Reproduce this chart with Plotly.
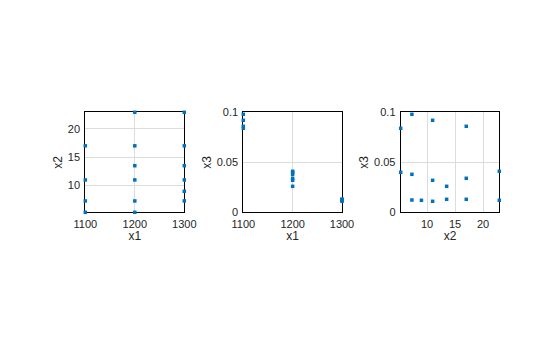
import plotly.graph_objects as go

# Data
x1 = [1100, 1100, 1100, 1100,
      1200, 1200, 1200, 1200, 1200, 1200,
      1300, 1300, 1300, 1300, 1300, 1300]
x2 = [17, 11, 7.3, 5.3,
      5.3, 7.3, 11, 13.5, 17, 22.9,
      7.3, 9, 11, 13.5, 17, 22.9]
x3 = [0.086, 0.092, 0.098, 0.084,
      0.040, 0.038, 0.032, 0.026, 0.034, 0.041,
      0.0123, 0.012, 0.011, 0.013, 0.013, 0.012]

pairs = [("x1", x1, "x2", x2), ("x1", x1, "x3", x3), ("x2", x2, "x3", x3)]
xranges = [[1100, 1300], [1100, 1300], [min(x2), max(x2)]]
yranges = [[min(x2), max(x2)], [0, 0.1], [0, 0.1]]
xticks = [[1100, 1200, 1300], [1100, 1200, 1300], [10, 15, 20]]
yticks = [[10, 15, 20], [0, 0.05, 0.1], [0, 0.05, 0.1]]
ytext = [["10", "15", "20"], ["0", "0.05", "0.1"], ["0", "0.05", "0.1"]]

W, H = 560, 337
xdoms = [(85.3, 184.3), (243.3, 342.0), (400.7, 499.3)]
ydom = [1 - 212.3 / H, 1 - 112.3 / H]

fig = go.Figure()
font = "Liberation Sans, Arial, sans-serif"
for i, (xn, xv, yn, yv) in enumerate(pairs):
    k = "" if i == 0 else str(i + 1)
    fig.add_trace(go.Scatter(
        x=xv, y=yv, mode="markers", xaxis="x" + k, yaxis="y" + k,
        marker=dict(symbol="square", size=3.5, color="#0072BD"),
        cliponaxis=False, showlegend=False, hoverinfo="skip"))
    common = dict(showline=True, mirror=True, linecolor="#000000", linewidth=1,
                  showgrid=True, gridcolor="#dcdcdc", gridwidth=1, zeroline=False,
                  layer="below traces", automargin=False,
                  ticks="", tickfont=dict(family=font, size=11, color="#262626"),
                  title_font=dict(family=font, size=12, color="#262626"))
    fig.layout["xaxis" + k] = dict(
        domain=[xdoms[i][0] / W, xdoms[i][1] / W], anchor="y" + k,
        range=xranges[i], tickvals=xticks[i], ticklabelstandoff=1,
        title=dict(text=xn, standoff=3), **common)
    fig.layout["yaxis" + k] = dict(
        domain=ydom, anchor="x" + k, range=yranges[i], tickvals=yticks[i],
        ticktext=ytext[i], ticklabelstandoff=2,
        title=dict(text=yn, standoff=2), **common)

fig.update_layout(width=W, height=H, margin=dict(l=0, r=0, t=0, b=0),
                  paper_bgcolor="white", plot_bgcolor="white")
fig.write_html("out.html")
